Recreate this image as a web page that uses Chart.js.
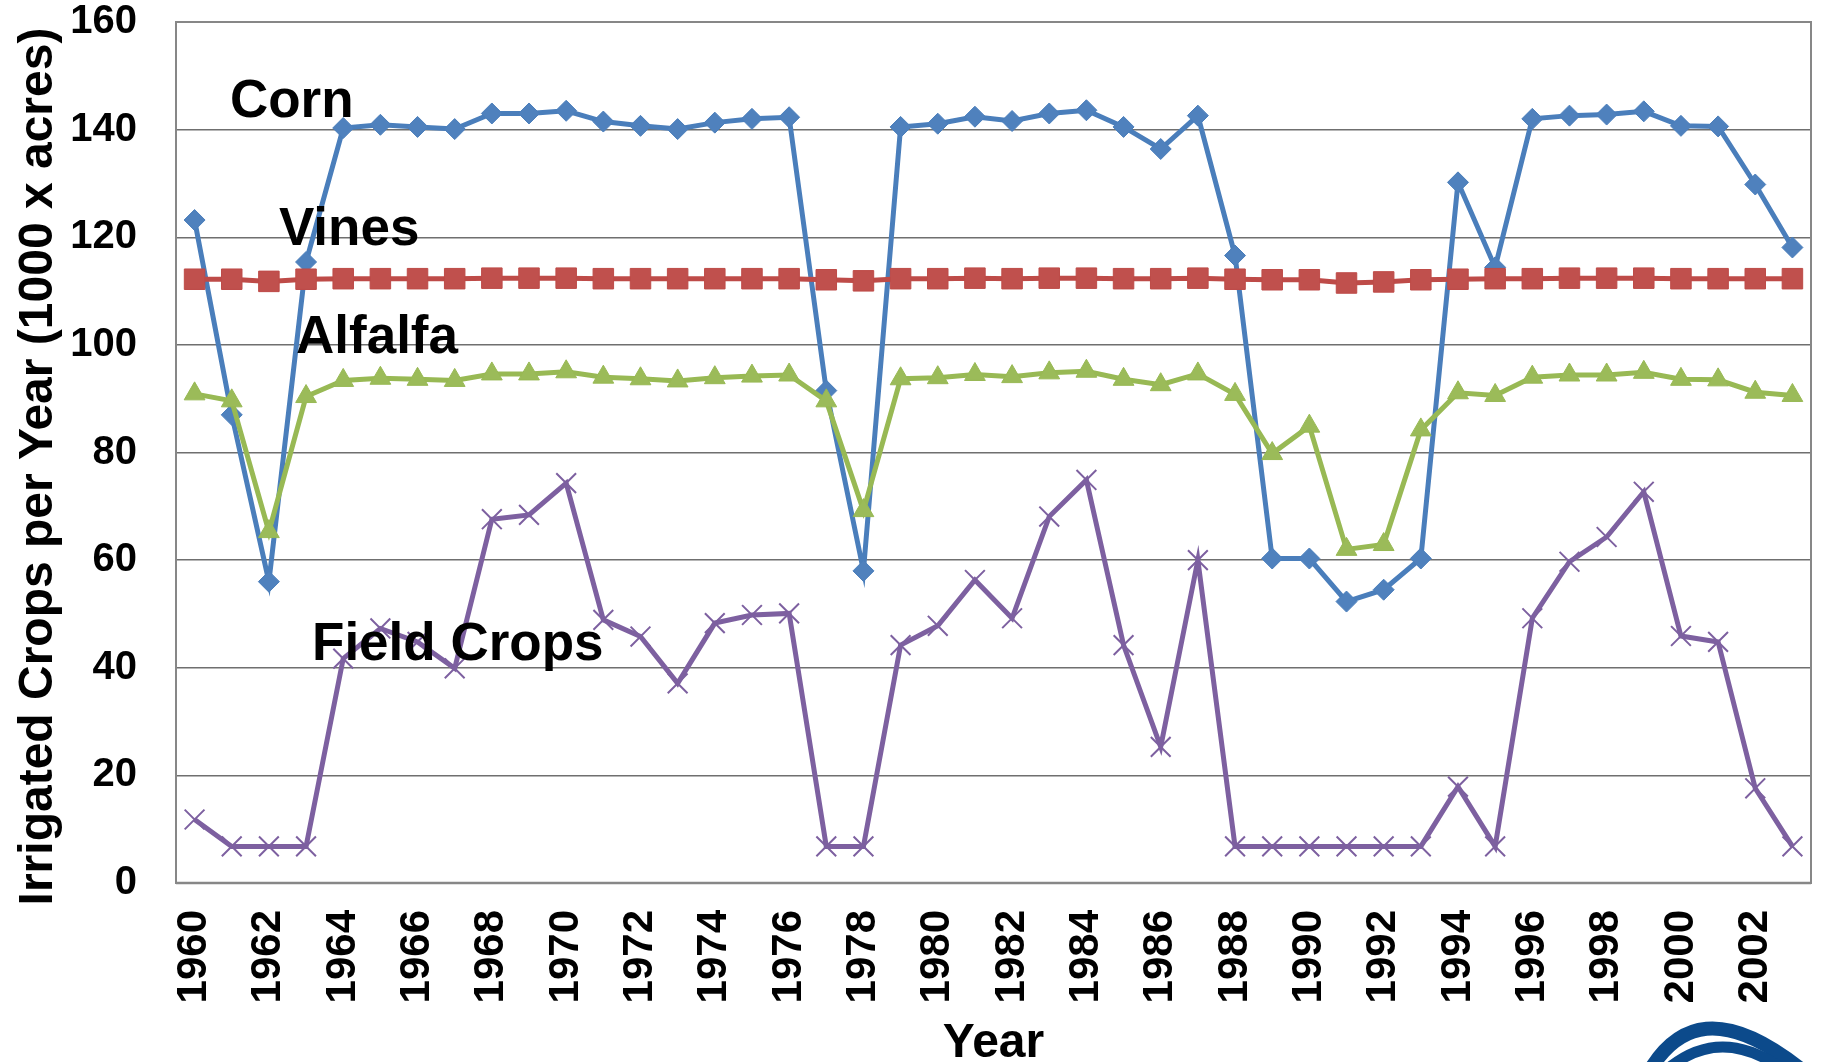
<!DOCTYPE html>
<html>
<head>
<meta charset="utf-8">
<title>Irrigated Crops per Year</title>
<script src="https://cdn.jsdelivr.net/npm/chart.js@4.4.1/dist/chart.umd.min.js"></script>
<style>
  html, body { margin: 0; padding: 0; background: #ffffff; }
  #wrap { width: 1822px; height: 1062px; }
</style>
</head>
<body>
<div id="wrap"><canvas id="chart" width="1822" height="1062"></canvas></div>
<script>
// Years on the category axis
const years = [
  '1960','1961','1962','1963','1964','1965','1966','1967','1968','1969',
  '1970','1971','1972','1973','1974','1975','1976','1977','1978','1979',
  '1980','1981','1982','1983','1984','1985','1986','1987','1988','1989',
  '1990','1991','1992','1993','1994','1995','1996','1997','1998','1999',
  '2000','2001','2002','2003'
];

// Years that carry a tick label
const yearTicks = [
  '1960','1962','1964','1966','1968','1970','1972','1974','1976','1978','1980',
  '1982','1984','1986','1988','1990','1992','1994','1996','1998','2000','2002'
];

// Irrigated area per year, 1000 x acres
const corn = [
  123.2, 87.0, 56.0, 115.4, 140.3, 140.9, 140.5, 140.1, 143.0, 143.0,
  143.5, 141.5, 140.7, 140.1, 141.3, 142.0, 142.3, 91.5, 58.0, 140.5,
  141.1, 142.4, 141.6, 143.0, 143.6, 140.5, 136.4, 142.6, 116.6, 60.3,
  60.3, 52.3, 54.5, 60.3, 130.2, 114.4, 142.0, 142.6, 142.8, 143.4,
  140.7, 140.6, 129.8, 118.1
];

const vines = [
  112.2, 112.2, 111.8, 112.2, 112.3, 112.3, 112.3, 112.3, 112.4, 112.4,
  112.4, 112.3, 112.3, 112.3, 112.3, 112.3, 112.3, 112.1, 111.9, 112.3,
  112.3, 112.4, 112.3, 112.4, 112.4, 112.3, 112.3, 112.4, 112.2, 112.1,
  112.1, 111.5, 111.7, 112.1, 112.2, 112.3, 112.3, 112.4, 112.4, 112.4,
  112.3, 112.3, 112.3, 112.3
];

const alfalfa = [
  90.9, 89.6, 65.3, 90.4, 93.4, 93.8, 93.6, 93.4, 94.6, 94.6,
  95.0, 94.0, 93.7, 93.3, 93.9, 94.2, 94.4, 89.6, 69.2, 93.7,
  93.9, 94.5, 94.1, 94.8, 95.1, 93.6, 92.6, 94.6, 90.8, 79.8,
  84.9, 62.0, 62.9, 84.2, 91.1, 90.6, 94.0, 94.4, 94.4, 94.9,
  93.6, 93.5, 91.2, 90.6
];

const fieldCrops = [
  11.8, 6.8, 6.8, 6.8, 41.7, 47.3, 44.8, 39.9, 67.6, 68.4,
  74.3, 48.9, 45.8, 37.1, 48.3, 49.8, 50.1, 6.8, 6.8, 44.2,
  47.8, 56.3, 49.2, 68.1, 74.9, 44.2, 25.3, 60.0, 6.8, 6.8,
  6.8, 6.8, 6.8, 6.8, 17.9, 6.8, 49.2, 59.7, 64.3, 72.7,
  45.9, 44.8, 17.6, 6.8
];

const seriesNames = ['Corn', 'Vines', 'Alfalfa', 'Field Crops'];

const FONT = '"Liberation Sans", Arial, Helvetica, sans-serif';
Chart.defaults.font.family = FONT;

// Plot frame, in-plot series names, axis titles and the corner emblem
const decorations = {
  id: 'decorations',
  beforeDatasetsDraw(chart) {
    const { ctx, chartArea: a } = chart;
    ctx.save();
    ctx.strokeStyle = '#878787';
    ctx.lineWidth = 2;
    ctx.strokeRect(a.left, a.top, a.right - a.left, a.bottom - a.top);
    ctx.lineWidth = 2.5;
    ctx.beginPath();
    ctx.moveTo(a.left, a.bottom);
    ctx.lineTo(a.right, a.bottom);
    ctx.stroke();
    ctx.restore();
  },
  afterDatasetsDraw(chart, args, opts) {
    const { ctx, scales } = chart;
    ctx.save();
    ctx.fillStyle = '#000000';
    ctx.font = 'bold 53px ' + FONT;
    ctx.textAlign = 'left';
    ctx.textBaseline = 'alphabetic';
    opts.notes.forEach(n => {
      ctx.fillText(n.text, scales.x.getPixelForValue(n.at), scales.y.getPixelForValue(n.value));
    });
    ctx.restore();
  },
  afterDraw(chart) {
    const { ctx, chartArea: a } = chart;
    ctx.save();
    ctx.fillStyle = '#000000';
    ctx.font = 'bold 48px ' + FONT;
    ctx.textAlign = 'center';
    ctx.textBaseline = 'alphabetic';
    // y-axis title
    ctx.save();
    ctx.translate(a.left - 124, (a.top + a.bottom) / 2 + 14);
    ctx.rotate(-Math.PI / 2);
    ctx.fillText('Irrigated Crops per Year (1000 x acres)', 0, 0);
    ctx.restore();
    // x-axis title
    ctx.fillText('Year', (a.left + a.right) / 2, chart.height - 5);

    // emblem in the lower right corner
    ctx.strokeStyle = '#0c4a8b';
    ctx.lineCap = 'butt';
    ctx.lineWidth = 14;
    ctx.beginPath();
    ctx.moveTo(1650, 1070);
    ctx.bezierCurveTo(1678, 1024, 1722, 1006, 1802, 1070);
    ctx.stroke();
    ctx.lineWidth = 11;
    ctx.beginPath();
    ctx.moveTo(1664, 1072);
    ctx.bezierCurveTo(1700, 1040, 1742, 1036, 1792, 1076);
    ctx.stroke();
    ctx.restore();
  }
};

const lineStyle = {
  borderWidth: 5,
  tension: 0,
  fill: false,
  pointHoverRadius: 0
};

const hidden = 'rgba(0,0,0,0)';

new Chart(document.getElementById('chart'), {
  type: 'line',
  data: {
    labels: years,
    datasets: [
      Object.assign({}, lineStyle, {
        label: seriesNames[0], data: corn, order: 4,
        borderColor: '#4a7ebb', backgroundColor: '#4f81bd',
        pointStyle: 'rectRot', pointRadius: 10.5,
        pointBorderColor: '#4a7ebb', pointBackgroundColor: '#4f81bd', pointBorderWidth: 1
      }),
      Object.assign({}, lineStyle, {
        label: seriesNames[1], data: vines, order: 3,
        borderColor: '#be4b48', backgroundColor: '#c0504d',
        pointStyle: 'rect', pointRadius: 14.5,
        pointBorderColor: '#be4b48', pointBackgroundColor: '#c0504d', pointBorderWidth: 1
      }),
      Object.assign({}, lineStyle, {
        label: seriesNames[2], data: alfalfa, order: 2,
        borderColor: '#98b954', backgroundColor: '#9bbb59',
        pointStyle: 'triangle', pointRadius: 12,
        pointBorderColor: '#98b954', pointBackgroundColor: '#9bbb59', pointBorderWidth: 1
      }),
      Object.assign({}, lineStyle, {
        label: seriesNames[3], data: fieldCrops, order: 1,
        borderColor: '#7d60a0', backgroundColor: '#8064a2',
        pointStyle: 'crossRot', pointRadius: 14,
        pointBorderColor: '#7d60a0', pointBackgroundColor: '#8064a2', pointBorderWidth: 2
      })
    ]
  },
  options: {
    responsive: false,
    animation: false,
    devicePixelRatio: 1,
    layout: { autoPadding: false, padding: { top: 22, right: 11, bottom: 0, left: 0 } },
    plugins: {
      legend: { display: false },
      tooltip: { enabled: false },
      decorations: {
        notes: [
          { text: seriesNames[0], at: 0.95, value: 142.4 },
          { text: seriesNames[1], at: 2.27, value: 118.6 },
          { text: seriesNames[2], at: 2.73, value: 98.5 },
          { text: seriesNames[3], at: 3.16, value: 41.4 }
        ]
      }
    },
    scales: {
      x: {
        type: 'category',
        offset: true,
        grid: { display: true, drawOnChartArea: false, drawTicks: true, tickLength: 27, tickColor: hidden },
        border: { display: false },
        ticks: {
          autoSkip: false,
          maxRotation: 90,
          minRotation: 90,
          padding: 0,
          color: '#000000',
          font: { size: 42, weight: 'bold', lineHeight: 0.5 },
          callback(value, index) {
            const y = years[index];
            return yearTicks.includes(y) ? y : '';
          }
        },
        afterFit(scale) { scale.height = 179; }
      },
      y: {
        min: 0,
        max: 160,
        grid: { color: '#6f6f6f', lineWidth: 1.5, drawTicks: true, tickLength: 39, tickColor: hidden },
        border: { display: false },
        ticks: {
          stepSize: 20,
          padding: 0,
          color: '#000000',
          font: { size: 40, weight: 'bold', lineHeight: 1 }
        },
        afterFit(scale) { scale.width = 176; }
      }
    }
  },
  plugins: [decorations]
});
</script>
</body>
</html>
